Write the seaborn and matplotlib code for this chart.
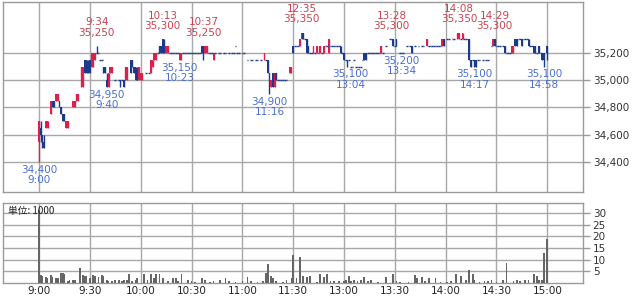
import matplotlib
matplotlib.use("Agg")
import matplotlib.pyplot as plt
import numpy as np
import pandas as pd
import seaborn as sns

# ---------------- data ----------------
# 1-minute candles: (session minute, open, high, low, close); (minute, price) = unchanged minute
# session minute: 0 = 9:00, 150 = 11:30 / 12:30, 300 = 15:00
c0900 = [(0, 34550, 34700, 34400, 34700), (1, 34650, 34700, 34550, 34600), (2, 34600, 34600, 34500, 34500),
         (3, 34550, 34600, 34500, 34500), (4, 34650, 34700, 34650, 34700), (5, 34650, 34700, 34650, 34700),
         (7, 34750, 34850, 34750, 34850), (8, 34850, 34850, 34800, 34800), (9, 34850, 34850, 34800, 34800),
         (10, 34850, 34900, 34850, 34900), (11, 34850, 34900, 34850, 34900), (12, 34850, 34850, 34800, 34800),
         (13, 34800, 34800, 34750, 34750), (14, 34750, 34750, 34700, 34700), (15, 34750, 34750, 34700, 34700),
         (16, 34650, 34700, 34650, 34700), (17, 34650, 34700, 34650, 34700), (20, 34800, 34850, 34800, 34850),
         (21, 34800, 34850, 34800, 34850), (22, 34850, 34900, 34850, 34900), (23, 34850, 34900, 34850, 34900),
         (25, 34950, 35100, 34950, 35100), (26, 34950, 35100, 34950, 35100), (27, 35150, 35150, 35050, 35050),
         (28, 35150, 35150, 35050, 35050), (29, 35100, 35150, 35050, 35050)]
c0930 = [(30, 35150, 35150, 35050, 35050), (31, 35100, 35200, 35100, 35200), (32, 35100, 35200, 35100, 35200),
         (33, 35150, 35200, 35150, 35200), (34, 35200, 35250, 35200, 35200), (35, 35200), (36, 35150), (37, 35150),
         (38, 35100, 35100, 35050, 35050), (39, 35100, 35100, 35050, 35050), (40, 35000, 35050, 34950, 34950),
         (41, 34950, 35050, 34950, 35050), (42, 35050, 35100, 35050, 35100), (43, 35050, 35100, 35050, 35100),
         (45, 35000), (47, 35000), (48, 35000, 35000, 34950, 34950), (49, 35000), (50, 35000, 35000, 34950, 34950),
         (51, 35000, 35100, 35000, 35100), (52, 35000, 35100, 35000, 35100), (54, 35150, 35150, 35050, 35050),
         (55, 35150, 35150, 35100, 35100), (56, 35100, 35100, 35050, 35050), (57, 35100, 35100, 35000, 35000),
         (58, 35050, 35100, 35000, 35000), (59, 35000, 35100, 35000, 35100)]
c1000 = [(60, 35000, 35050, 35000, 35050), (61, 35000, 35050, 35000, 35050), (63, 35050), (65, 35050),
         (66, 35050, 35150, 35050, 35150), (67, 35100, 35150, 35100, 35150), (68, 35150, 35200, 35150, 35200),
         (69, 35150, 35200, 35150, 35200), (70, 35200), (71, 35250, 35250, 35200, 35200),
         (72, 35250, 35250, 35200, 35200), (73, 35300, 35300, 35200, 35200), (74, 35250, 35300, 35200, 35200),
         (75, 35200, 35250, 35200, 35250), (76, 35200, 35250, 35200, 35250), (77, 35200), (78, 35200),
         (79, 35200), (80, 35200), (81, 35200), (82, 35200), (83, 35150, 35200, 35150, 35200),
         (84, 35150, 35200, 35150, 35200), (85, 35200), (86, 35200), (87, 35200), (88, 35200), (89, 35200)]
c1030 = [(90, 35200), (91, 35200), (92, 35200), (93, 35200), (94, 35200), (95, 35200),
         (96, 35250, 35250, 35200, 35200), (97, 35250, 35250, 35150, 35150), (98, 35200, 35250, 35200, 35250),
         (99, 35200, 35250, 35200, 35250), (100, 35200), (101, 35200), (102, 35200),
         (103, 35150, 35200, 35150, 35200), (104, 35200), (106, 35200), (107, 35200), (109, 35200),
         (110, 35200), (112, 35200), (114, 35200), (115, 35200), (116, 35250), (117, 35200), (118, 35200)]
c1100 = [(120, 35200), (121, 35200), (123, 35150), (125, 35150), (126, 35150), (128, 35150), (129, 35150),
         (131, 35150), (133, 35150, 35200, 35150, 35200), (134, 35150), (135, 35150, 35150, 35050, 35050),
         (136, 35050, 35050, 34900, 34950), (137, 34950, 35000, 34950, 35000), (138, 35050, 35050, 34950, 34950),
         (139, 34950, 35050, 34950, 35050), (140, 35050, 35050, 35000, 35000), (141, 35000), (142, 35000),
         (143, 35000), (144, 35000), (145, 35000), (146, 35000), (148, 35050, 35100, 35050, 35100),
         (149, 35050, 35100, 35050, 35100)]
c1230 = [(150, 35250, 35250, 35200, 35200), (151, 35250), (152, 35250), (153, 35250),
         (154, 35250, 35300, 35250, 35300), (155, 35300, 35350, 35300, 35350), (156, 35350, 35350, 35300, 35300),
         (157, 35300), (158, 35300, 35300, 35200, 35200), (159, 35250, 35250, 35200, 35200), (160, 35200),
         (161, 35200), (162, 35200, 35250, 35200, 35250), (163, 35200), (164, 35200, 35250, 35200, 35250),
         (165, 35200), (166, 35200, 35250, 35200, 35250), (167, 35200), (168, 35200, 35250, 35200, 35250),
         (169, 35250), (170, 35250), (171, 35200, 35300, 35200, 35300), (172, 35250), (173, 35250),
         (174, 35250), (175, 35250), (176, 35250), (177, 35250), (178, 35250, 35250, 35200, 35200), (179, 35200)]
c1300 = [(180, 35200, 35200, 35150, 35150), (181, 35150), (182, 35150, 35150, 35100, 35100), (183, 35150),
         (184, 35100), (185, 35100), (186, 35150), (187, 35100), (188, 35100), (189, 35100), (190, 35100),
         (191, 35150), (192, 35200, 35200, 35150, 35150), (193, 35200, 35200, 35150, 35150), (194, 35200),
         (195, 35200), (196, 35200), (197, 35200), (198, 35200), (199, 35200), (200, 35200), (201, 35200),
         (202, 35200, 35250, 35200, 35250), (203, 35200), (205, 35250), (207, 35300), (208, 35300),
         (209, 35300, 35300, 35250, 35250)]
c1330 = [(210, 35250), (211, 35300, 35300, 35250, 35250), (213, 35200), (214, 35200), (215, 35200),
         (217, 35250), (219, 35250), (220, 35250, 35250, 35200, 35200), (222, 35250), (224, 35250),
         (226, 35250), (227, 35250), (229, 35250, 35300, 35250, 35300), (230, 35250), (231, 35250),
         (232, 35250), (233, 35250), (234, 35250), (235, 35250), (236, 35250), (237, 35250),
         (238, 35250, 35300, 35250, 35300), (239, 35300, 35300, 35250, 35250)]
c1400 = [(241, 35300), (242, 35300), (244, 35300), (245, 35300), (247, 35300, 35350, 35300, 35350),
         (248, 35300, 35350, 35300, 35350), (249, 35300), (250, 35300, 35350, 35300, 35350), (251, 35300),
         (252, 35300), (253, 35300), (254, 35300, 35300, 35150, 35150), (255, 35150, 35150, 35100, 35100),
         (256, 35150), (257, 35150, 35150, 35100, 35100), (258, 35150, 35150, 35100, 35100), (259, 35150),
         (260, 35150), (262, 35150), (264, 35150), (265, 35150), (267, 35250),
         (268, 35250, 35300, 35250, 35300), (269, 35300, 35300, 35250, 35250)]
c1430 = [(270, 35250), (271, 35250), (272, 35250), (274, 35250), (275, 35250, 35250, 35200, 35200),
         (276, 35200), (277, 35200), (278, 35200), (279, 35200, 35250, 35200, 35250),
         (280, 35200, 35250, 35200, 35250), (281, 35300, 35300, 35250, 35250), (282, 35300, 35300, 35250, 35250),
         (283, 35300), (284, 35300), (285, 35300, 35300, 35250, 35250), (286, 35300), (287, 35300), (288, 35300),
         (289, 35300, 35300, 35250, 35250), (290, 35250), (291, 35250), (292, 35250, 35250, 35200, 35200),
         (293, 35250, 35250, 35200, 35200), (294, 35200), (295, 35250, 35250, 35200, 35200), (296, 35200),
         (297, 35200, 35200, 35150, 35150), (298, 35200, 35200, 35100, 35150), (300, 35250, 35250, 35150, 35200)]

# volume (thousand shares) per session minute
vol_minute = [0, 1, 2, 4, 5, 7, 8, 10, 11, 13, 14, 15, 17, 18, 20, 21, 24, 26, 27, 28,
              30, 32, 33, 35, 37, 38, 40, 41, 43, 45, 47, 49, 50, 52, 53, 55, 57, 58, 62, 64,
              66, 68, 69, 71, 73, 76, 79, 81, 82, 84, 88, 90, 92, 96, 98, 101, 103, 107, 110, 112,
              116, 120, 123, 125, 129, 132, 134, 135, 137, 138, 140, 144, 146, 149, 150, 152, 154, 156, 158, 160,
              164, 166, 168, 170, 172, 174, 177, 180, 181, 183, 184, 186, 188, 190, 192, 194, 196, 200, 205, 209,
              211, 213, 218, 222, 223, 226, 228, 230, 234, 237, 241, 243, 246, 249, 252, 254, 256, 257, 260, 263,
              265, 267, 270, 274, 276, 280, 282, 284, 287, 289, 292, 294, 295, 297, 298, 300]
vol_value = [31.5, 3.5, 3, 2.5, 2, 3.5, 2.5, 2, 2, 4.5, 4.5, 4, 1, 1.5, 1.5, 1.5, 6.5, 3.5, 3, 3,
             2, 3.5, 3, 2.5, 3.5, 3, 1.5, 1, 1, 1.5, 1.5, 1, 1.5, 1.5, 4, 1, 1.5, 2, 4, 1.5,
             4, 2, 4, 4, 2, 1, 2, 2, 1, 4, 1.5, 1, 0.5, 2, 1.5, 0.5, 1, 1.5, 2, 1,
             0.5, 1, 2.5, 1, 0.5, 1, 4.5, 8, 3, 2, 1, 0.5, 1.5, 2, 12, 2, 11, 3, 2.5, 3,
             0.5, 4, 2.5, 4, 1, 1, 1, 1, 1.5, 3, 1, 1.5, 1, 1.5, 2.5, 1, 1.5, 0.5, 2.5, 4,
             1, 0.5, 0.5, 3.5, 2, 2.5, 1, 2, 2, 0.5, 0.5, 1, 4, 3, 1.5, 5.5, 4, 1.5, 0.5, 1,
             1, 1.5, 0.5, 1.5, 8.5, 1, 1.5, 1, 1.5, 1.5, 4, 3, 1.5, 1.5, 13, 19]

# labelled extremes: (minute, price, time text)
high_marks = [(34, 35250, "9:34"), (73, 35300, "10:13"), (97, 35250, "10:37"), (155, 35350, "12:35"),
              (208, 35300, "13:28"), (248, 35350, "14:08"), (269, 35300, "14:29")]
low_marks = [(0, 34400, "9:00"), (40, 34950, "9:40"), (83, 35150, "10:23"), (136, 34900, "11:16"),
             (184, 35100, "13:04"), (214, 35200, "13:34"), (257, 35100, "14:17"), (298, 35100, "14:58")]

time_ticks = [0, 30, 60, 90, 120, 150, 180, 210, 240, 270, 300]
time_labels = ["9:00", "9:30", "10:00", "10:30", "11:00", "11:30", "13:00", "13:30", "14:00", "14:30", "15:00"]
price_ticks = [34400, 34600, 34800, 35000, 35200]
vol_ticks = [5, 10, 15, 20, 25, 30]

# ---------------- style ----------------
sns.set_style("white")
plt.rcParams["font.family"] = ["DejaVu Sans", "Noto Sans CJK JP"]

UP = "#dc1f4b"
DOWN = "#1c3a8c"
RED_TXT = "#c8444f"
BLUE_TXT = "#4a6fd0"
GRID = "#a8a8a8"
FRAME = "#9a9a9a"

W, H = 632, 296
fig = plt.figure(figsize=(W / 100, H / 100), dpi=100)
fig.patch.set_facecolor("white")
axp = fig.add_axes([3 / W, 1 - 192 / H, 580 / W, 190 / H])
axv = fig.add_axes([3 / W, 1 - 283 / H, 580 / W, 80 / H])

rows = []
for seg in [c0900, c0930, c1000, c1030, c1100, c1230, c1300, c1330, c1400, c1430]:
    for r in seg:
        if len(r) == 2:
            r = (r[0], r[1], r[1], r[1], r[1])
        rows.append(r)
df = pd.DataFrame(rows, columns=["m", "o", "h", "l", "c"])
df["col"] = np.where(df.c > df.o, UP, DOWN)

# wicks
wk = df[df.h > df.l]
axp.vlines(wk.m, wk.l, wk.h, colors=wk.col, lw=1.0, zorder=3)
# bodies
bd = df[df.c != df.o]
axp.bar(bd.m, (bd.c - bd.o).abs(), bottom=np.minimum(bd.o, bd.c), width=1.0,
        color=bd.col, linewidth=0, zorder=3)
# unchanged minutes
fl = df[df.c == df.o]
axp.hlines(fl.o, fl.m - 0.5, fl.m + 0.5, colors=fl.col, lw=1.0, zorder=3)

XL = (-21.3, 321.1)
axp.set_xlim(*XL)
axp.set_ylim(34180, 35574)
axp.set_xticks(time_ticks)
axp.set_xticklabels([])
axp.tick_params(axis="x", length=0)
axp.set_yticks(price_ticks)
axp.set_yticklabels([f"{p:,}" for p in price_ticks])
axp.yaxis.tick_right()
axp.tick_params(axis="y", length=5, width=1, color=FRAME, labelsize=7.5, pad=2, labelcolor="#333333")
axp.grid(True, color=GRID, lw=1)
axp.set_axisbelow(True)
for s in axp.spines.values():
    s.set_color(FRAME)
    s.set_linewidth(1)

for m, p, t in high_marks:
    axp.annotate(f"{t}\n{p:,}", (m, p), xytext=(0, 6), textcoords="offset points",
                 ha="center", va="bottom", fontsize=7.5, color=RED_TXT, linespacing=1.05, zorder=5)
for m, p, t in low_marks:
    axp.annotate(f"{p:,}\n{t}", (m, p), xytext=(0, -2), textcoords="offset points",
                 ha="center", va="top", fontsize=7.5, color=BLUE_TXT, linespacing=1.05, zorder=5)

# volume
sns.histplot(x=vol_minute, weights=vol_value, discrete=True, shrink=1.0, color="#666666",
             alpha=1, linewidth=0, ax=axv, zorder=3)
axv.set_xlim(*XL)
axv.set_ylim(0, 34.3)
axv.set_xticks(time_ticks)
axv.set_xticklabels(time_labels)
axv.set_yticks(vol_ticks)
axv.set_yticklabels([str(v) for v in vol_ticks])
axv.yaxis.tick_right()
axv.tick_params(axis="y", length=5, width=1, color=FRAME, labelsize=7.5, pad=2, labelcolor="#333333")
axv.tick_params(axis="x", length=0, labelsize=7.5, pad=2, labelcolor="#222222")
axv.set_xlabel("")
axv.set_ylabel("")
axv.grid(True, color=GRID, lw=1)
axv.set_axisbelow(True)
for s in axv.spines.values():
    s.set_color(FRAME)
    s.set_linewidth(1)
axv.text(0.008, 0.9, "単位: 1000", transform=axv.transAxes, ha="left", va="center",
         fontsize=7, color="#222222", family=["Noto Sans CJK JP", "DejaVu Sans"], zorder=6)

fig.savefig("out.png", dpi=100, facecolor="white")
